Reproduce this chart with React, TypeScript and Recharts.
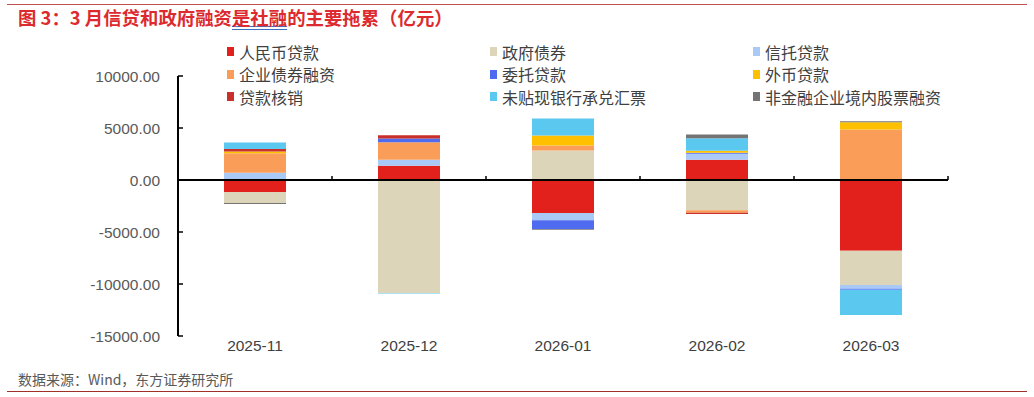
import {Bar, BarChart, ReferenceLine, XAxis, YAxis} from "recharts";

const months = ["2025-11", "2025-12", "2026-01", "2026-02", "2026-03"];
const rmbLoans = [-1160, 1360, -3170, 1940, -6800];
const govBonds = [-1040, -10870, 2840, -2910, -3300];
const trustLoans = [700, 580, -710, 580, -360];
const corpBonds = [1880, 1680, 480, -230, 4850];
const entrustedLoans = [0, 360, -840, 100, -100];
const fxLoans = [150, 0, 970, 200, 710];
const writeOffs = [260, 320, 0, -120, 0];
const bills = [610, -50, 1620, 1200, -2430];
const equity = [-100, 0, -60, 360, 80];
const yTicks = [-15000, -10000, -5000, 0, 5000, 10000];

const series = [
    {key: "rmb", name: "人民币贷款", color: "#E3211C", values: rmbLoans},
    {key: "gov", name: "政府债券", color: "#DDD5B9", values: govBonds},
    {key: "trust", name: "信托贷款", color: "#A9C9F7", values: trustLoans},
    {key: "corp", name: "企业债券融资", color: "#F99D58", values: corpBonds},
    {key: "entrust", name: "委托贷款", color: "#4F6BF0", values: entrustedLoans},
    {key: "fx", name: "外币贷款", color: "#FFC000", values: fxLoans},
    {key: "writeoff", name: "贷款核销", color: "#C9302C", values: writeOffs},
    {key: "bills", name: "未贴现银行承兑汇票", color: "#5BC8F0", values: bills},
    {key: "equity", name: "非金融企业境内股票融资", color: "#747474", values: equity},
];

const data = months.map((m, i) => {
    const row: Record<string, string | number> = {month: m};
    series.forEach(s => row[s.key] = s.values[i]);
    return row;
});

const W = 1034, H = 397;
const TOP = 76, BOTTOM_AXIS = 61, LEFT_AXIS = 178, RIGHT = 86;
const Y_MIN = -15000, Y_MAX = 10000;
const zeroY = TOP + (H - TOP - BOTTOM_AXIS) * (Y_MAX / (Y_MAX - Y_MIN));

const numFont = "'Liberation Sans', Arial, sans-serif";
const cjkFont = "'Noto Sans CJK SC', 'Noto Sans', sans-serif";

// category labels sit at the bottom, with a small boundary tick on the zero line
function MonthTick(props: any) {
    const {x, y, payload} = props;
    const half = payload.offset ?? 77;
    return (
        <g>
            <line x1={x + half} x2={x + half} y1={zeroY - 4} y2={zeroY} stroke="#000" strokeWidth={1.5}/>
            <text x={x} y={y + 7} textAnchor="middle" fill="#404040" fontSize={15.5} fontFamily={numFont}>
                {payload.value}
            </text>
        </g>
    );
}

export default function App() {
    return (
        <div style={{position: "absolute", left: 0, top: 0, width: W, height: H, background: "#fff", fontFamily: cjkFont}}>
            <div style={{position: "absolute", left: 7, right: 7, top: 4, borderTop: "1px solid #C0504D"}}/>
            <div style={{position: "absolute", left: 18, top: 4, fontSize: 18.4, fontWeight: 700, color: "#DC2A2E", whiteSpace: "nowrap"}}>
                图 3：3 月信贷和政府融资<span style={{textDecoration: "underline double #3E6FC0"}}>是社融</span>的主要拖累（亿元）
            </div>
            <div style={{position: "absolute", left: 0, top: 0}}>
                <BarChart width={W} height={H} data={data} stackOffset="sign" barSize={62}
                          margin={{top: TOP, right: RIGHT, left: 0, bottom: 0}}>
                    <XAxis dataKey="month" height={BOTTOM_AXIS} axisLine={false} tickLine={false} tick={<MonthTick/>}
                           interval={0}/>
                    <YAxis width={LEFT_AXIS} domain={[Y_MIN, Y_MAX]} ticks={yTicks} allowDataOverflow
                           tickFormatter={(v: number) => v.toFixed(2)}
                           axisLine={{stroke: "#000", strokeWidth: 2}}
                           tickLine={{stroke: "#000", strokeWidth: 1.5}} tickSize={-5} tickMargin={23}
                           tick={{fill: "#595959", fontSize: 15.5, fontFamily: numFont}}/>
                    {series.map(s => (
                        <Bar key={s.key} dataKey={s.key} name={s.name} stackId="a" fill={s.color}
                             isAnimationActive={false}/>
                    ))}
                    <ReferenceLine y={0} stroke="#000" strokeWidth={2}/>
                </BarChart>
            </div>
            <div style={{
                position: "absolute", left: 227, top: 41, display: "grid",
                gridTemplateColumns: "263px 263px 263px", rowGap: 1.5, fontSize: 16, color: "#404040"
            }}>
                {series.map(s => (
                    <div key={s.key} style={{display: "flex", alignItems: "center", height: 21, whiteSpace: "nowrap"}}>
                        <span style={{width: 7, height: 9, background: s.color, marginRight: 5, display: "inline-block"}}/>
                        {s.name}
                    </div>
                ))}
            </div>
            <div style={{position: "absolute", left: 18, top: 369, fontSize: 14, color: "#595959", whiteSpace: "nowrap"}}>
                数据来源：Wind，东方证券研究所
            </div>
            <div style={{position: "absolute", left: 7, right: 7, top: 391, borderTop: "1px solid #A0302A"}}/>
        </div>
    );
}
